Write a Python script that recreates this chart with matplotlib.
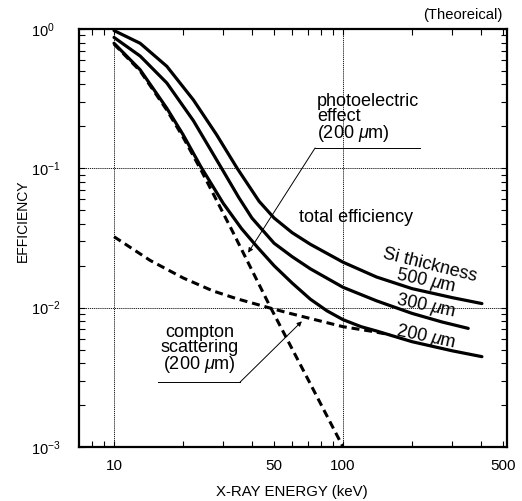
import matplotlib.pyplot as plt
from matplotlib.ticker import FixedLocator, LogLocator, NullFormatter

plt.rcParams["font.family"] = ["Liberation Sans", "DejaVu Sans"]
plt.rcParams["mathtext.fontset"] = "custom"
plt.rcParams["mathtext.rm"] = "Liberation Sans"
plt.rcParams["mathtext.it"] = "Liberation Sans:italic"

# total efficiency curves, energy in keV
e_500 = [10, 13, 17, 22.2, 28, 34.5, 43, 50, 60, 72, 100, 140, 200, 300, 404]
eff_500 = [0.975, 0.79, 0.54, 0.31, 0.175, 0.100, 0.058, 0.044, 0.0345, 0.0285,
           0.0212, 0.0166, 0.0137, 0.0118, 0.0107]

e_300 = [10, 13, 17, 22.2, 29.5, 35, 40, 50, 60, 72, 100, 140, 200, 270, 352]
eff_300 = [0.87, 0.64, 0.41, 0.22, 0.100, 0.062, 0.044, 0.029, 0.0232, 0.019,
           0.0140, 0.0112, 0.0091, 0.0079, 0.0071]

e_200 = [10, 13, 17, 20, 24, 30, 36, 42, 50, 60, 72, 85, 100, 120, 140, 200, 300, 404]
eff_200 = [0.79, 0.51, 0.27, 0.175, 0.102, 0.056, 0.037, 0.0275, 0.020, 0.015,
           0.0115, 0.0095, 0.0082, 0.0073, 0.0068, 0.0057, 0.0049, 0.00445]

# components for 200 um
e_photo = [10, 13, 17, 20, 24, 33, 48, 70, 100]
eff_photo = [0.78, 0.50, 0.262, 0.168, 0.097, 0.035, 0.0102, 0.0031, 0.00100]

e_compton = [10, 14.4, 20.1, 27, 34.3, 49.5, 58.6, 100, 131, 160]
eff_compton = [0.0323, 0.0218, 0.0163, 0.0132, 0.0116, 0.0098, 0.0091, 0.0073, 0.0068, 0.0064]

fig = plt.figure(figsize=(5.22, 5.01), dpi=100)
ax = fig.add_axes([0.1513, 0.1078, 0.82, 0.8343])
ax.set_xscale("log")
ax.set_yscale("log")
ax.set_xlim(7.03, 520)
ax.set_ylim(1e-3, 1)

for e, eff in [(e_500, eff_500), (e_300, eff_300), (e_200, eff_200)]:
    ax.plot(e, eff, color="black", lw=2.3, solid_capstyle="round", solid_joinstyle="round")
for e, eff in [(e_photo, eff_photo), (e_compton, eff_compton)]:
    ax.plot(e, eff, color="black", lw=2.2, linestyle=(0, (2.6, 1.6)))

# decade grid
for xv in [10, 100]:
    ax.axvline(xv, color="black", lw=0.6, linestyle=(0, (1.5, 1)), zorder=0)
for yv in [1e-1, 1e-2]:
    ax.axhline(yv, color="black", lw=0.6, linestyle=(0, (1.5, 1)), zorder=0)

for s in ax.spines.values():
    s.set_linewidth(1.6)

ax.xaxis.set_major_locator(FixedLocator([10, 50, 100, 500]))
ax.set_xticklabels(["10", "50", "100", "500"])
ax.xaxis.set_minor_locator(LogLocator(base=10, subs=range(2, 10), numticks=20))
ax.xaxis.set_minor_formatter(NullFormatter())
ax.yaxis.set_major_locator(FixedLocator([1e-3, 1e-2, 1e-1, 1]))
ax.set_yticklabels([r"$10^{-3}$", r"$10^{-2}$", r"$10^{-1}$", r"$10^{0}$"])
ax.yaxis.set_minor_locator(LogLocator(base=10, subs=range(2, 10), numticks=20))
ax.yaxis.set_minor_formatter(NullFormatter())
ax.tick_params(which="both", direction="in", top=True, right=True, length=4, width=0.8)
ax.tick_params(axis="x", which="major", pad=9, labelsize=11)
ax.tick_params(axis="y", which="major", pad=34.5, labelsize=10.5)
for lab in ax.get_yticklabels():
    lab.set_horizontalalignment("left")

fig.text(0.0441, 0.559, "EFFICIENCY", rotation=90, ha="center", va="center", fontsize=10)
fig.text(0.559, 0.018, "X-RAY ENERGY (keV)", ha="center", va="center", fontsize=10.8)
fig.text(0.962, 0.970, "(Theoreical)", ha="right", va="center", fontsize=10.6)

txt = dict(fontsize=13, color="black")
ax.text(76.9, 0.35, "photoelectric\neffect\n(200 $\\mu$m)", ha="left", va="top", linespacing=0.88, **txt)
ax.plot([75.5, 217], [0.14, 0.14], color="black", lw=0.7)
ax.annotate("", xy=(38.5, 0.0248), xytext=(75.5, 0.14),
            arrowprops=dict(arrowstyle="-|>", lw=0.7, color="black", mutation_scale=7, shrinkA=0, shrinkB=0))

ax.text(114, 0.0442, "total efficiency", ha="center", va="center", **txt)
ax.text(240, 0.0203, "Si thickness", ha="center", va="center", rotation=-14, **txt)
ax.text(230, 0.0154, "500 $\\mu$m", ha="center", va="center", rotation=-12, **txt)
ax.text(230, 0.0102, "300 $\\mu$m", ha="center", va="center", rotation=-12, **txt)
ax.text(230, 0.0062, "200 $\\mu$m", ha="center", va="center", rotation=-12, **txt)

ax.text(23.7, 0.0050, "compton\nscattering\n(200 $\\mu$m)", ha="center", va="center",
        multialignment="center", linespacing=0.88, **txt)
ax.plot([15.6, 35.5], [0.00292, 0.00292], color="black", lw=0.7)
ax.annotate("", xy=(66.1, 0.00798), xytext=(35.5, 0.00292),
            arrowprops=dict(arrowstyle="-|>", lw=0.7, color="black", mutation_scale=7, shrinkA=0, shrinkB=0))

fig.savefig("out.png", dpi=100)
